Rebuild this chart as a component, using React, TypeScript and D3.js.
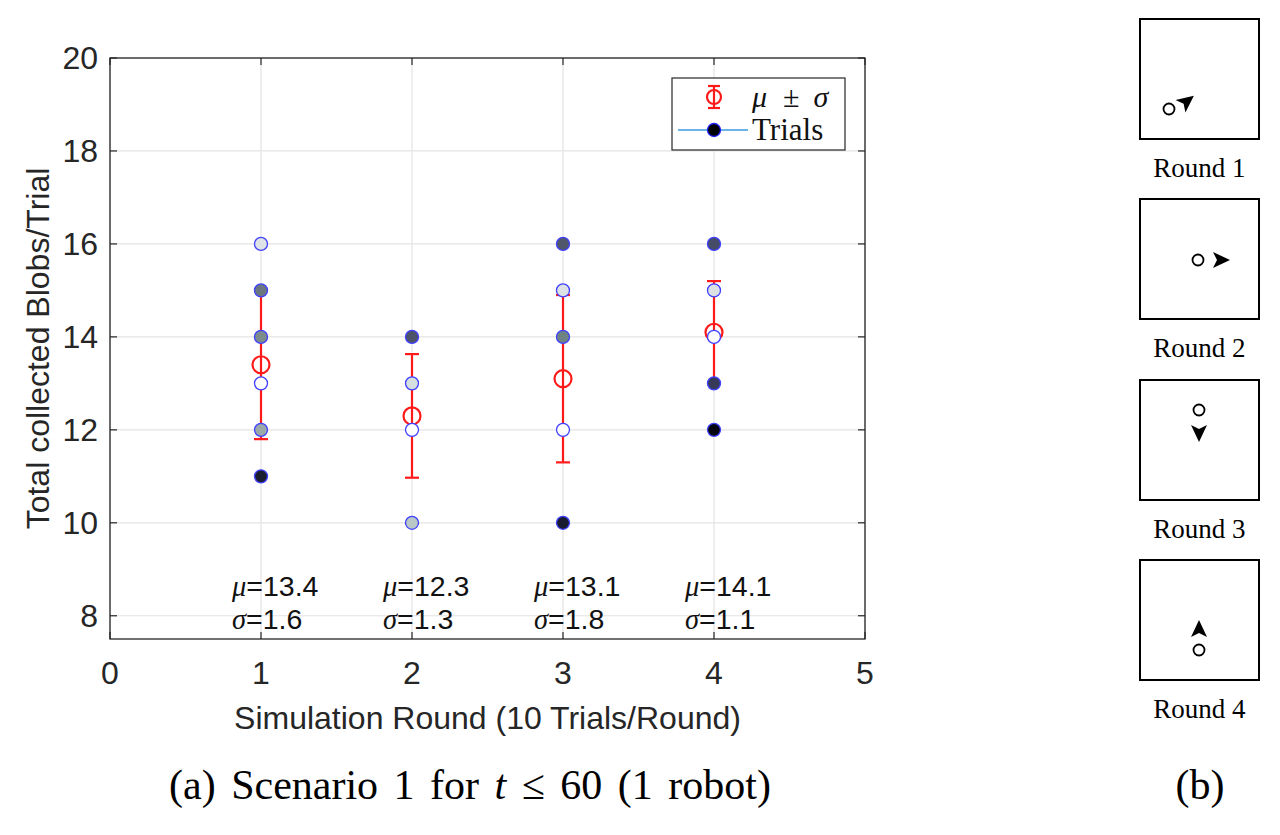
import React from "react";
import * as d3 from "d3";

const rounds = [1, 2, 3, 4];
const trialValues = [
  [16, 15, 14, 13, 12, 11],
  [14, 13, 12, 10],
  [16, 15, 14, 12, 10],
  [16, 15, 14, 13, 12],
];
const trialFills = [
  ["#dfe3e6", "#6b7680", "#7c8b8b", "#ffffff", "#9aa8a8", "#1c1c30"],
  ["#4c5268", "#d6dfdf", "#ffffff", "#b9c7c7"],
  ["#50576a", "#dde3e5", "#6e8484", "#ffffff", "#1a1a30"],
  ["#464b68", "#dce2e4", "#ffffff", "#363a58", "#050510"],
];
const means = [13.4, 12.3, 13.1, 14.1];
const sigmas = [1.6, 1.33, 1.8, 1.1];
const meanLabels = ["13.4", "12.3", "13.1", "14.1"];
const sigmaLabels = ["1.6", "1.3", "1.8", "1.1"];
const xTicks = [0, 1, 2, 3, 4, 5];
const yTicks = [8, 10, 12, 14, 16, 18, 20];
const panelLabels = ["Round 1", "Round 2", "Round 3", "Round 4"];
// arrow heading angle in degrees (0 = right, positive = clockwise on screen)
const arrowAngles = [-38, 0, 90, -90];

const SANS = "'Liberation Sans', Arial, Helvetica, sans-serif";
const SERIF = "'Liberation Serif', 'Times New Roman', serif";

function Arrow({ x, y, angle }: { x: number; y: number; angle: number }) {
  return (
    <path
      d="M10,0 L-7,-8 L-3,0 L-7,8 Z"
      transform={`translate(${x},${y}) rotate(${angle})`}
      fill="#000"
    />
  );
}

export default function App() {
  const x = d3.scaleLinear().domain([0, 5]).range([110, 865]);
  const y = d3.scaleLinear().domain([7.5, 20]).range([639, 58]);
  const [x0, x1] = x.range();
  const [yb, yt] = y.range();

  // right panels
  const panelTop = [19, 199, 380, 560];
  const panelX = 1140;
  const panelW = 119;
  const panelH = 120;
  const circlePos = [
    [1169, 109],
    [1198, 260],
    [1199, 410],
    [1199, 650],
  ];
  const arrowPos = [
    [1186, 102],
    [1220, 260],
    [1199, 432],
    [1199, 630],
  ];

  return (
    <svg width={1280} height={835} style={{ display: "block", margin: "-8px", background: "#fff" }}>
      <rect width={1280} height={835} fill="#fff" />
      {/* grid */}
      {xTicks.map((t) => (
        <line key={"gx" + t} x1={x(t)} x2={x(t)} y1={yb} y2={yt} stroke="#e3e3e3" strokeWidth={1.2} />
      ))}
      {yTicks.map((t) => (
        <line key={"gy" + t} x1={x0} x2={x1} y1={y(t)} y2={y(t)} stroke="#e3e3e3" strokeWidth={1.2} />
      ))}
      {/* box */}
      <rect x={x0} y={yt} width={x1 - x0} height={yb - yt} fill="none" stroke="#262626" strokeWidth={1.3} />
      {/* ticks */}
      {xTicks.map((t) => (
        <g key={"tx" + t}>
          <line x1={x(t)} x2={x(t)} y1={yb} y2={yb - 7} stroke="#262626" strokeWidth={1.2} />
          <line x1={x(t)} x2={x(t)} y1={yt} y2={yt + 7} stroke="#262626" strokeWidth={1.2} />
          <text x={x(t)} y={yb + 45} textAnchor="middle" fontFamily={SANS} fontSize={32} fill="#262626">
            {t}
          </text>
        </g>
      ))}
      {yTicks.map((t) => (
        <g key={"ty" + t}>
          <line x1={x0} x2={x0 + 7} y1={y(t)} y2={y(t)} stroke="#262626" strokeWidth={1.2} />
          <line x1={x1} x2={x1 - 7} y1={y(t)} y2={y(t)} stroke="#262626" strokeWidth={1.2} />
          <text x={x0 - 12} y={y(t) + 11} textAnchor="end" fontFamily={SANS} fontSize={32} fill="#262626">
            {t}
          </text>
        </g>
      ))}
      {/* axis titles */}
      <text x={(x0 + x1) / 2} y={729} textAnchor="middle" fontFamily={SANS} fontSize={32} fill="#262626">
        Simulation Round (10 Trials/Round)
      </text>
      <text
        transform={`translate(49,${(yb + yt) / 2}) rotate(-90)`}
        textAnchor="middle"
        fontFamily={SANS}
        fontSize={32}
        fill="#262626"
      >
        Total collected Blobs/Trial
      </text>

      {/* error bars */}
      {rounds.map((r, i) => {
        const lo = y(means[i] - sigmas[i]);
        const hi = y(means[i] + sigmas[i]);
        const cx = x(r);
        return (
          <g key={"eb" + r} stroke="#ff1a1a" strokeWidth={2.2} fill="none">
            <line x1={cx} x2={cx} y1={lo} y2={hi} />
            <line x1={cx - 7} x2={cx + 7} y1={lo} y2={lo} />
            <line x1={cx - 7} x2={cx + 7} y1={hi} y2={hi} />
            <circle cx={cx} cy={y(means[i])} r={8.5} />
          </g>
        );
      })}
      {/* trials */}
      {rounds.map((r, i) =>
        trialValues[i].map((v, j) => (
          <circle
            key={"p" + r + "-" + j}
            cx={x(r)}
            cy={y(v)}
            r={6.5}
            fill={trialFills[i][j]}
            stroke="#4040ff"
            strokeWidth={1.3}
          />
        ))
      )}
      {/* annotations */}
      {rounds.map((r, i) => (
        <g key={"an" + r} fill="#111">
          <text x={x(r) - 29} y={596} fontSize={28.5}>
            <tspan fontFamily={SERIF} fontStyle="italic">μ</tspan>
            <tspan fontFamily={SANS}>={meanLabels[i]}</tspan>
          </text>
          <text x={x(r) - 29} y={629} fontSize={28.5}>
            <tspan fontFamily={SERIF} fontStyle="italic">σ</tspan>
            <tspan fontFamily={SANS}>={sigmaLabels[i]}</tspan>
          </text>
        </g>
      ))}

      {/* legend */}
      <rect x={672} y={78} width={173} height={72} fill="#fff" stroke="#262626" strokeWidth={1.2} />
      <g stroke="#ff1a1a" strokeWidth={2.2} fill="none">
        <line x1={714} x2={714} y1={86} y2={108} />
        <line x1={708} x2={720} y1={86} y2={86} />
        <line x1={708} x2={720} y1={108} y2={108} />
        <circle cx={714} cy={97} r={7} />
      </g>
      <text x={752} y={107} fontFamily={SERIF} fontSize={30} fill="#111">
        <tspan fontStyle="italic">μ</tspan>
        <tspan dx={16}>±</tspan>
        <tspan dx={14} fontStyle="italic">σ</tspan>
      </text>
      <line x1={678} x2={748} y1={130} y2={130} stroke="#3b9ae1" strokeWidth={1.3} />
      <circle cx={714} cy={130} r={6.5} fill="#000" stroke="#2020ff" strokeWidth={1.3} />
      <text x={752} y={140} fontFamily={SERIF} fontSize={31} fill="#111">
        Trials
      </text>

      {/* caption (a) */}
      <text x={470} y={799} textAnchor="middle" fontFamily={SERIF} fontSize={42} wordSpacing={5} fill="#000">
        (a) Scenario 1 for <tspan fontStyle="italic">t</tspan> ≤ 60 (1 robot)
      </text>

      {/* right panels */}
      {panelLabels.map((lab, i) => (
        <g key={"pn" + i}>
          <rect x={panelX} y={panelTop[i]} width={panelW} height={panelH} fill="none" stroke="#000" strokeWidth={2} />
          <circle cx={circlePos[i][0]} cy={circlePos[i][1]} r={5.5} fill="none" stroke="#000" strokeWidth={1.8} />
          <Arrow x={arrowPos[i][0]} y={arrowPos[i][1]} angle={arrowAngles[i]} />
          <text x={panelX + panelW / 2} y={panelTop[i] + panelH + 38} textAnchor="middle" fontFamily={SERIF} fontSize={27} fill="#000">
            {lab}
          </text>
        </g>
      ))}
      <text x={1200} y={799} textAnchor="middle" fontFamily={SERIF} fontSize={42} fill="#000">
        (b)
      </text>
    </svg>
  );
}
